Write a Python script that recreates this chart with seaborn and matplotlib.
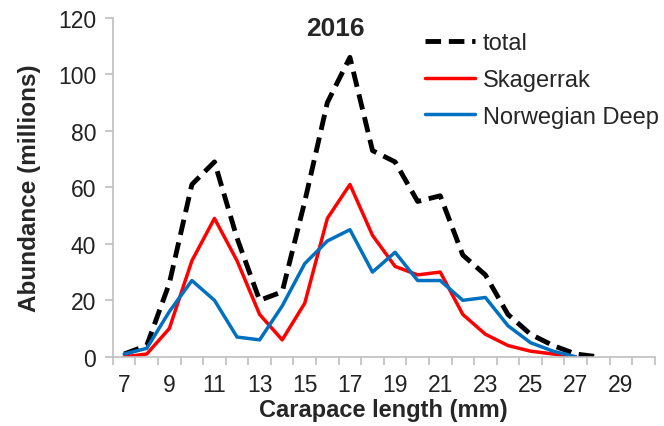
import numpy as np
import pandas as pd
import seaborn as sns
import matplotlib.pyplot as plt
from matplotlib.ticker import MultipleLocator

# Carapace length classes (mm)
length_total = list(range(7, 29))
length_region = list(range(7, 28))

# Abundance (millions)
total = [1, 4, 26, 61, 69, 42, 20, 23, 55, 90, 106, 73, 69, 55, 57, 36, 29, 15, 8, 4, 1, 0]
skagerrak = [0, 1, 10, 34, 49, 34, 15, 6, 19, 49, 61, 43, 32, 29, 30, 15, 8, 4, 2, 1, 0]
norwegian_deep = [1, 3, 16, 27, 20, 7, 6, 18, 33, 41, 45, 30, 37, 27, 27, 20, 21, 11, 5, 2, 0]

df_total = pd.DataFrame({"length": length_total, "abundance": total})
df_skag = pd.DataFrame({"length": length_region, "abundance": skagerrak})
df_nd = pd.DataFrame({"length": length_region, "abundance": norwegian_deep})

sns.set_style("white")
plt.rcParams["font.family"] = ["Liberation Sans", "DejaVu Sans"]

fig = plt.figure(figsize=(6.64, 4.27), dpi=100)
ax = fig.add_axes([0.170, 0.162, 0.816, 0.794])

sns.lineplot(data=df_total, x="length", y="abundance", ax=ax, color="black",
             linewidth=3.5, label="total")
ax.lines[-1].set_dashes([3.2, 1.6])
sns.lineplot(data=df_skag, x="length", y="abundance", ax=ax, color="#ff0000",
             linewidth=2.5, label="Skagerrak")
sns.lineplot(data=df_nd, x="length", y="abundance", ax=ax, color="#0070c0",
             linewidth=2.5, label="Norwegian Deep")

ax.set_xlim(6.5, 30.5)
ax.set_ylim(0, 120)
ax.set_xticks(range(7, 30, 2))
ax.xaxis.set_minor_locator(MultipleLocator(1, offset=0.5))
ax.set_yticks(range(0, 121, 20))

for side in ["top", "right"]:
    ax.spines[side].set_visible(False)
for side in ["left", "bottom"]:
    ax.spines[side].set_color("#bfbfbf")
    ax.spines[side].set_linewidth(1.2)

ax.tick_params(axis="x", which="major", length=0, labelsize=16.5, pad=12, colors="#222222")
ax.tick_params(axis="x", which="minor", bottom=True, length=6, width=1.2, color="#bfbfbf")
ax.tick_params(axis="y", which="major", left=True, length=6, width=1.2, color="#bfbfbf",
               labelsize=16.5, labelcolor="#222222", pad=6)

ax.set_xlabel("Carapace length (mm)", fontsize=17, fontweight="bold", labelpad=1)
ax.set_ylabel("Abundance (millions)", fontsize=17.5, fontweight="bold", labelpad=12)

ax.text(0.41, 1.005, "2016", transform=ax.transAxes, ha="center", va="top",
        fontsize=19, fontweight="bold")

leg = ax.legend(loc="upper right", bbox_to_anchor=(1.025, 0.985), frameon=False, fontsize=17,
                handlelength=2.1, handletextpad=0.35, labelspacing=0.62, borderaxespad=0.0)
leg.legend_handles[0].set_dashes([3.2, 1.6])

fig.savefig("out.png", dpi=100)
